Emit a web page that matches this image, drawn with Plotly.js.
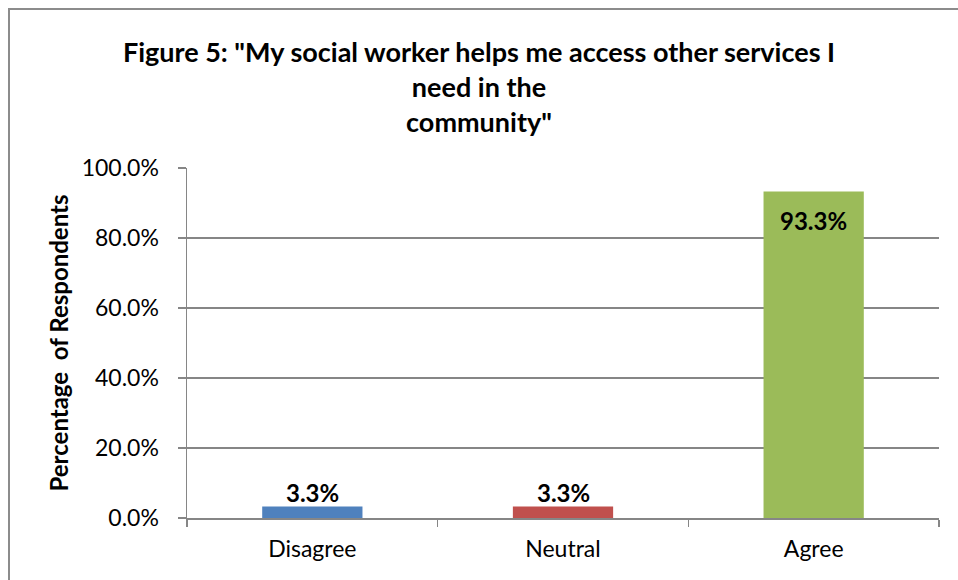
<!DOCTYPE html>
<html>
<head>
<meta charset="utf-8">
<script src="https://cdn.plot.ly/plotly-3.0.1.min.js"></script>
<style>
  html, body { margin: 0; padding: 0; background: #ffffff; overflow: hidden; }
  #frame { position: absolute; left: 8px; top: 8px; width: 1000px; height: 1000px;
           border-left: 2px solid #8c8c8c; border-top: 2px solid #8c8c8c; box-sizing: border-box; }
  #chart { position: absolute; left: 0; top: 0; width: 958px; height: 580px; }
</style>
</head>
<body>
<div id="frame"></div>
<div id="chart"></div>
<script>
const categories = ["Disagree", "Neutral", "Agree"];
const values = [0.033, 0.033, 0.933];
const barColors = ["#4F81BD", "#C0504D", "#9BBB59"];
const yTickValues = [0, 0.2, 0.4, 0.6, 0.8, 1.0];
const labelShift = [14, 14, -29];

const FONT = "Lato, 'Open Sans', sans-serif";

const trace = {
  type: "bar",
  x: categories,
  y: values,
  marker: { color: barColors, line: { width: 0 } },
  hoverinfo: "x+y"
};

const annotations = categories.map((c, i) => ({
  x: c, y: values[i], xref: "x", yref: "y",
  text: (values[i] * 100).toFixed(1) + "%",
  showarrow: false, yanchor: "middle", yshift: labelShift[i],
  font: { family: FONT, size: 24, color: "#000000", weight: "bold" }
}));

const layout = {
  width: 958, height: 580,
  paper_bgcolor: "rgba(0,0,0,0)",
  plot_bgcolor: "rgba(0,0,0,0)",
  margin: { l: 187, r: 19, t: 168, b: 62 },
  bargap: 0.6,
  showlegend: false,
  font: { family: FONT, size: 23, color: "#000000" },
  title: {
    text: "Figure 5: \"My social worker helps me access other services I<br>need in the<br>community\"",
    font: { family: FONT, size: 27, color: "#000000", weight: "bold" },
    x: 0.5, xanchor: "center", y: 0.893, yanchor: "middle"
  },
  xaxis: {
    type: "category",
    showline: true, linecolor: "#868686", linewidth: 1.5,
    ticks: "outside", tickson: "boundaries", ticklen: 7, tickcolor: "#868686", tickwidth: 1.5,
    showgrid: false, zeroline: false,
    tickfont: { family: FONT, size: 23, color: "#000000" },
    ticklabelstandoff: 10
  },
  yaxis: {
    range: [0, 1], tickvals: yTickValues, tickformat: ".1%",
    showline: true, linecolor: "#868686", linewidth: 1.5,
    ticks: "outside", ticklen: 8, tickcolor: "#868686", tickwidth: 1.5,
    showgrid: true, gridcolor: "#868686", gridwidth: 1.5,
    zeroline: false,
    tickfont: { family: FONT, size: 23, color: "#000000" },
    ticklabelstandoff: 14,
    title: {
      text: "Percentage  of Respondents",
      font: { family: FONT, size: 24, color: "#000000", weight: "bold" },
      standoff: 6
    }
  },
  annotations: annotations
};

Plotly.newPlot("chart", [trace], layout, { displayModeBar: false, staticPlot: true });
</script>
</body>
</html>
